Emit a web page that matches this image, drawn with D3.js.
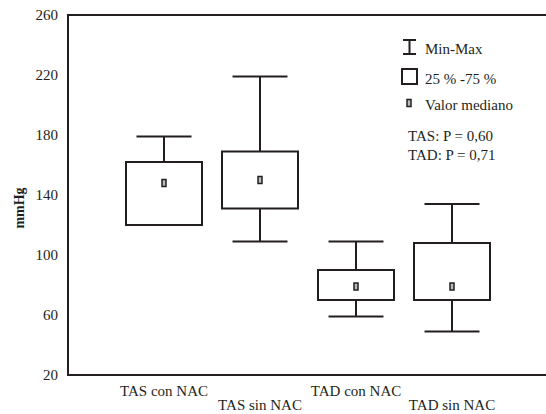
<!DOCTYPE html>
<html>
<head>
<meta charset="utf-8">
<script src="https://cdn.jsdelivr.net/npm/d3@7"></script>
<style>
  html, body { margin: 0; padding: 0; background: #fff; }
  svg text { font-family: "Liberation Serif", "DejaVu Serif", serif; }
</style>
</head>
<body>
<svg id="chart" width="546" height="414"></svg>
<script>
// Blood pressure by group (mmHg)
const categories = ["TAS con NAC", "TAS sin NAC", "TAD con NAC", "TAD sin NAC"];
const minValues    = [120, 109, 59, 49];
const q1Values     = [120, 131, 70, 70];
const medianValues = [148, 150, 79, 79];
const q3Values     = [162, 169, 90, 108];
const maxValues    = [179, 219, 109, 134];
const yTicks = [20, 60, 100, 140, 180, 220, 260];

const ink = "#231f20";
const serif = "Liberation Serif";
const svg = d3.select("#chart").attr("font-family", serif);

const plot = { left: 68, right: 548, top: 15, bottom: 375 };

const x = d3.scalePoint().domain(categories).range([plot.left, plot.right]).padding(1);
const y = d3.scaleLinear().domain([20, 260]).range([plot.bottom, plot.top]);

const boxW = 76, capW = 55;

// frame: left, top and bottom rules
svg.append("path")
  .attr("d", `M546,${plot.top}H${plot.left}V${plot.bottom}H546`)
  .attr("fill", "none").attr("stroke", ink).attr("stroke-width", 2);

// y axis labels
const yAxis = d3.axisLeft(y).tickValues(yTicks).tickSize(0).tickPadding(10);
const gy = svg.append("g").attr("transform", `translate(${plot.left},0)`).call(yAxis)
  .attr("font-family", serif).attr("font-size", 15);
gy.select(".domain").remove();
gy.selectAll("text").attr("fill", ink);

svg.append("text")
  .attr("transform", "translate(24,208) rotate(-90)")
  .attr("text-anchor", "middle")
  .attr("font-size", 14).attr("font-weight", "bold").attr("fill", ink)
  .text("mmHg");

// x category labels, staggered on two rows
svg.append("g").selectAll("text").data(categories).join("text")
  .attr("x", d => x(d))
  .attr("y", (d, i) => i % 2 === 0 ? 396 : 410)
  .attr("text-anchor", "middle")
  .attr("font-size", 15).attr("fill", ink)
  .text(d => d);

// box plots
const rows = categories.map((c, i) => ({
  c, min: minValues[i], q1: q1Values[i], med: medianValues[i], q3: q3Values[i], max: maxValues[i]
}));

const g = svg.append("g").selectAll("g").data(rows).join("g")
  .attr("stroke", ink).attr("stroke-width", 2).attr("fill", "none");

// whiskers
g.append("line").attr("x1", d => x(d.c)).attr("x2", d => x(d.c))
  .attr("y1", d => y(d.q3)).attr("y2", d => y(d.max));
g.append("line").attr("x1", d => x(d.c)).attr("x2", d => x(d.c))
  .attr("y1", d => y(d.q1)).attr("y2", d => y(d.min));
g.append("line").attr("x1", d => x(d.c) - capW / 2).attr("x2", d => x(d.c) + capW / 2)
  .attr("y1", d => y(d.max)).attr("y2", d => y(d.max));
g.append("line").attr("x1", d => x(d.c) - capW / 2).attr("x2", d => x(d.c) + capW / 2)
  .attr("y1", d => y(d.min)).attr("y2", d => y(d.min));

// interquartile box
g.append("rect")
  .attr("x", d => x(d.c) - boxW / 2).attr("width", boxW)
  .attr("y", d => y(d.q3)).attr("height", d => y(d.q1) - y(d.q3))
  .attr("fill", "#fff");

// median marker
g.append("rect")
  .attr("x", d => x(d.c) - 2).attr("width", 4)
  .attr("y", d => y(d.med) - 3.5).attr("height", 7)
  .attr("fill", "#bbb").attr("stroke-width", 1.5);

// legend
const lg = svg.append("g").attr("fill", ink).attr("font-size", 15);
lg.append("path").attr("d", "M403,40H416M409.5,40V54M403,54H416")
  .attr("stroke", ink).attr("stroke-width", 2).attr("fill", "none");
lg.append("text").attr("x", 425).attr("y", 54).text("Min-Max");
lg.append("rect").attr("x", 402).attr("y", 69).attr("width", 15).attr("height", 15)
  .attr("fill", "#fff").attr("stroke", ink).attr("stroke-width", 2);
lg.append("text").attr("x", 425).attr("y", 84).text("25 % -75 %");
lg.append("rect").attr("x", 407).attr("y", 99.5).attr("width", 4).attr("height", 7)
  .attr("fill", "#bbb").attr("stroke", ink).attr("stroke-width", 1.5);
lg.append("text").attr("x", 425).attr("y", 110).text("Valor mediano");
lg.append("text").attr("x", 408).attr("y", 141).text("TAS: P = 0,60");
lg.append("text").attr("x", 408).attr("y", 160).text("TAD: P = 0,71");
</script>
</body>
</html>
